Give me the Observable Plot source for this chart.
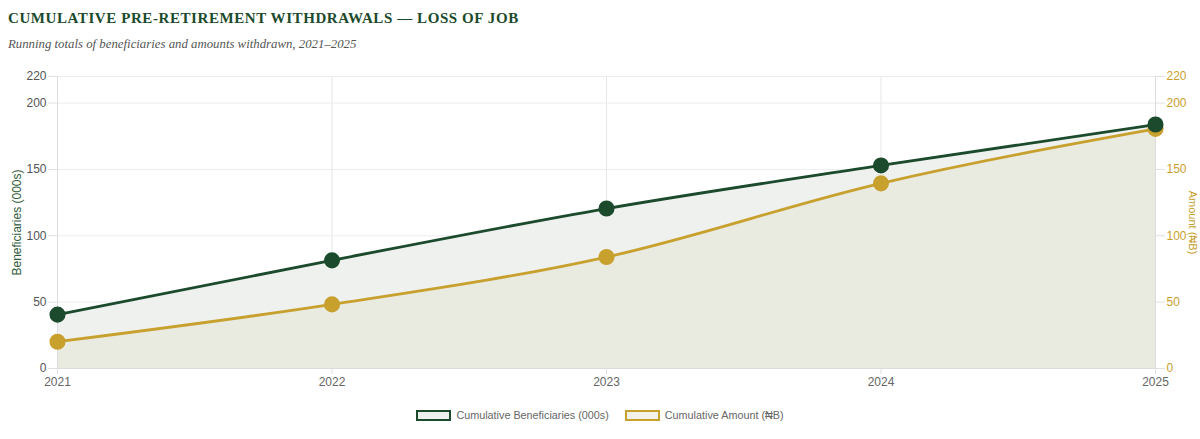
<!DOCTYPE html>
<html>
<head>
<meta charset="utf-8">
<script src="https://cdn.jsdelivr.net/npm/d3@7"></script>
<script src="https://cdn.jsdelivr.net/npm/@observablehq/plot@0.6"></script>
<style>
  html, body { margin: 0; padding: 0; background: #fff; }
  body { width: 1200px; height: 439px; overflow: hidden; position: relative; }
  #title { position: absolute; left: 8px; top: 10px; font-family: "Liberation Serif", serif; font-weight: bold; font-size: 15px; letter-spacing: 0.58px; color: #1b4a2c; white-space: nowrap; }
  #subtitle { position: absolute; left: 8px; top: 37px; font-family: "Liberation Serif", serif; font-style: italic; font-size: 12.8px; color: #555; white-space: nowrap; }
  #chart { position: absolute; left: 0; top: 60px; }
  #legend { position: absolute; left: 0; top: 409px; width: 1200px; display: flex; justify-content: center; gap: 16px; font-family: "Liberation Sans", Arial, sans-serif; font-size: 10.8px; color: #666; }
  .item { display: flex; align-items: center; gap: 5px; }
  .sw { width: 31px; height: 7px; border: 2.5px solid; background: #eef0ee; }
</style>
</head>
<body>
<div id="title">CUMULATIVE PRE-RETIREMENT WITHDRAWALS — LOSS OF JOB</div>
<div id="subtitle">Running totals of beneficiaries and amounts withdrawn, 2021–2025</div>
<div id="chart"></div>
<div id="legend"></div>
<script>
const years = [2021, 2022, 2023, 2024, 2025];
const beneficiaries = [40.6, 81.5, 120.5, 153, 183.8];
const amounts = [20.2, 48.3, 84, 139.5, 180.5];
const yTicks = [0, 50, 100, 150, 200, 220];
const seriesNames = ["Cumulative Beneficiaries (000s)", "Cumulative Amount (₦B)"];
const leftLabel = "Beneficiaries (000s)";
const rightLabel = "Amount (₦B)";

const GREEN = "#1b4a2c";
const GOLD = "#c8a02e";

const benRows = years.map((y, i) => ({year: y, value: beneficiaries[i]}));
const amtRows = years.map((y, i) => ({year: y, value: amounts[i]}));

const chart = Plot.plot({
  width: 1200,
  height: 335,
  marginLeft: 57,
  marginRight: 45,
  marginTop: 16,
  marginBottom: 27,
  style: {fontFamily: "'Liberation Sans', Arial, sans-serif", fontSize: "12px", background: "transparent"},
  x: {type: "linear", domain: [2021, 2025]},
  y: {domain: [0, 220]},
  marks: [
    Plot.gridX(years, {stroke: "#e6e6e6", strokeOpacity: 1}),
    Plot.gridY(yTicks, {stroke: "#ececec", strokeOpacity: 1}),
    Plot.areaY(benRows, {x: "year", y: "value", fill: "#eff1ef", curve: "monotone-x"}),
    Plot.areaY(amtRows, {x: "year", y: "value", fill: "#e9eae0", curve: "monotone-x"}),
    Plot.ruleX([2021, 2025], {stroke: "#dcdcdc"}),
    Plot.ruleY([0], {stroke: "#dcdcdc"}),
    Plot.axisX({ticks: years, tickFormat: "d", tickSize: 6, tickPadding: 3, color: "#666", stroke: "#e0e0e0", label: null}),
    Plot.axisY({anchor: "left", ticks: yTicks, tickSize: 9, tickPadding: 2, color: "#555", label: null}),
    Plot.axisY({anchor: "right", ticks: yTicks, tickSize: 9, tickPadding: 2, color: GOLD, label: null}),
    Plot.lineY(amtRows, {x: "year", y: "value", stroke: GOLD, strokeWidth: 2.8, curve: "monotone-x"}),
    Plot.lineY(benRows, {x: "year", y: "value", stroke: GREEN, strokeWidth: 2.8, curve: "monotone-x"}),
    Plot.dot(amtRows, {x: "year", y: "value", r: 7.3, fill: GOLD, stroke: GOLD}),
    Plot.dot(benRows, {x: "year", y: "value", r: 7.3, fill: GREEN, stroke: GREEN}),
    Plot.text([leftLabel], {frameAnchor: "left", textAnchor: "middle", dx: -40, rotate: -90, fill: "#2f5a3b", fontSize: 12, text: d => d}),
    Plot.text([rightLabel], {frameAnchor: "right", textAnchor: "middle", dx: 37, rotate: 90, fill: GOLD, fontSize: 11, text: d => d})
  ]
});
chart.querySelectorAll("[aria-label='y-axis tick']").forEach(g => g.setAttribute("stroke", "#e0e0e0"));
document.getElementById("chart").appendChild(chart);

const legend = document.getElementById("legend");
[GREEN, GOLD].forEach((c, i) => {
  const item = document.createElement("div");
  item.className = "item";
  const sw = document.createElement("div");
  sw.className = "sw";
  sw.style.borderColor = c;
  sw.style.background = i === 0 ? "#eef0ee" : "#f3f2ea";
  const t = document.createElement("span");
  t.textContent = seriesNames[i];
  item.appendChild(sw);
  item.appendChild(t);
  legend.appendChild(item);
});
</script>
</body>
</html>
